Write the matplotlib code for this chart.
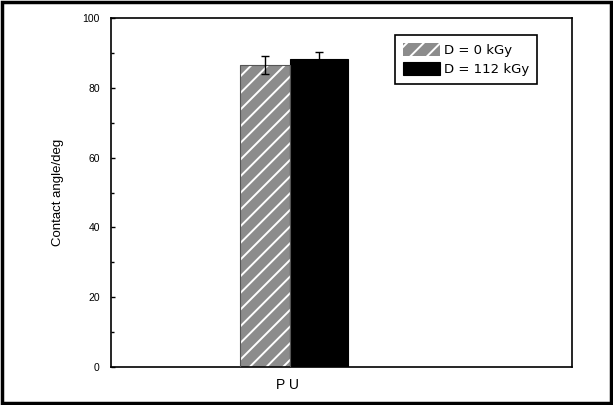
import matplotlib
matplotlib.use("Agg")
import matplotlib.pyplot as plt
from matplotlib.patches import Rectangle
import numpy as np

categories = ["P U"]
series_labels = ["D = 0 kGy", "D = 112 kGy"]
values = [86.6, 88.2]
errors = [2.5, 2.2]

plt.rcParams['font.family'] = ['Liberation Sans', 'DejaVu Sans']
plt.rcParams['hatch.linewidth'] = 1.4

fig = plt.figure(figsize=(6.13, 4.05), dpi=100)
ax = fig.add_axes([0.181, 0.0938, 0.752, 0.8617])

x = np.arange(len(categories))
w0, w1 = 0.18, 0.21
ax.bar(x - w0, values[0], width=w0, align='edge', color='#8c8c8c',
       edgecolor='white', hatch='//', linewidth=0, label=series_labels[0], zorder=2)
ax.bar(x - w0, values[0], width=w0, align='edge', fill=False, edgecolor='#555555',
       linewidth=0.8, zorder=3)
ax.bar(x, values[1], width=w1, align='edge', color='black', edgecolor='black',
       linewidth=0.8, label=series_labels[1], zorder=2)
ax.errorbar(x - w0 / 2, values[0], yerr=errors[0], fmt='none', ecolor='black',
            elinewidth=1, capsize=3, capthick=1, zorder=4)
ax.errorbar(x + w1 / 2, values[1], yerr=errors[1], fmt='none', ecolor='black',
            elinewidth=1, capsize=3, capthick=1, zorder=4)

ax.set_xlim(-0.65, 1.025)
ax.set_ylim(0, 100)
ax.set_xticks(x - 0.01)
ax.set_xticklabels(categories, fontsize=10)
ax.tick_params(axis='x', length=0, pad=8)
ax.set_yticks(np.arange(0, 101, 20))
ax.set_yticks(np.arange(10, 100, 20), minor=True)
ax.tick_params(axis='y', which='major', direction='in', length=3, width=1, labelsize=7.5, pad=8)
ax.tick_params(axis='y', which='minor', direction='in', length=2, width=1)
ax.set_ylabel("Contact angle/deg", fontsize=9.5, labelpad=13)
for s in ax.spines.values():
    s.set_linewidth(1.2)

leg = ax.legend(loc='upper left', bbox_to_anchor=(0.616, 0.952),
                prop={'family': 'DejaVu Sans', 'size': 9.5},
                frameon=True, fancybox=False, edgecolor='black', framealpha=1,
                handlelength=2.8, handleheight=1.2, handletextpad=0.3,
                borderpad=0.6, labelspacing=0.35, borderaxespad=0)
leg.get_frame().set_linewidth(1.2)

fig.patches.append(Rectangle((0.003, 0.004), 0.994, 0.992, transform=fig.transFigure,
                             fill=False, edgecolor='black', linewidth=2.5))

fig.savefig("out.png", dpi=100)
